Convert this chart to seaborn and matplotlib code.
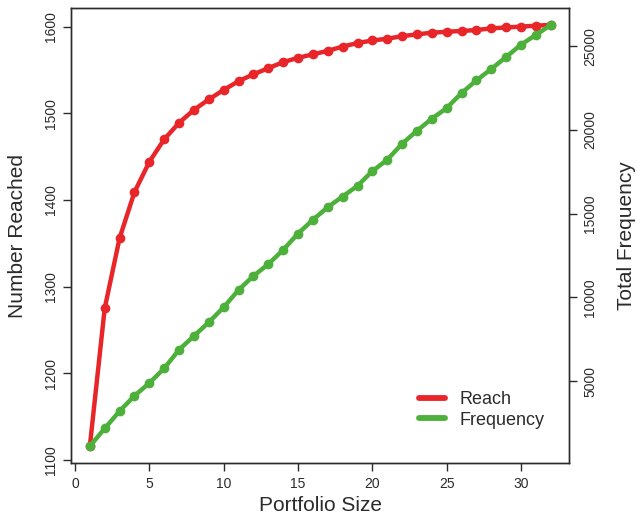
import matplotlib
matplotlib.use("Agg")
import matplotlib.pyplot as plt
from matplotlib.lines import Line2D
import seaborn as sns

# ── Data ─────────────────────────────────────────────────────
portfolio_size = list(range(1, 33))
reach = [1116, 1275, 1356, 1409, 1444, 1470, 1489, 1504, 1516, 1527,
         1537, 1545, 1552, 1559, 1564, 1568, 1572, 1577, 1581, 1584,
         1586, 1589, 1591, 1593, 1594, 1595, 1596, 1598, 1599, 1600,
         1601, 1602]
frequency = [1110, 2169, 3204, 4119, 4879, 5759, 6872, 7691, 8511, 9408,
             10443, 11281, 11981, 12837, 13812, 14631, 15391, 16025, 16666, 17545,
             18221, 19179, 19956, 20674, 21314, 22212, 22966, 23648, 24366, 25102,
             25682, 26280]
left_ticks = [1100, 1200, 1300, 1400, 1500, 1600]
right_ticks = [5000, 10000, 15000, 20000, 25000]
x_ticks = [0, 5, 10, 15, 20, 25, 30]

RED = "#E8262A"
GREEN = "#4DB03A"
INK = "#2b2b2b"

sns.set_style("ticks")
plt.rcParams["font.family"] = ["Liberation Sans", "DejaVu Sans"]

fig = plt.figure(figsize=(6.37, 5.2), dpi=100)
ax = fig.add_axes([0.1121, 0.1096, 0.7816, 0.875])
ax2 = ax.twinx()

# ── Lines ────────────────────────────────────────────────────
sns.lineplot(x=portfolio_size, y=reach, ax=ax, color=RED, lw=3.2,
             marker="o", markersize=7, markeredgewidth=0)
sns.lineplot(x=portfolio_size, y=frequency, ax=ax2, color=GREEN, lw=3.2,
             marker="o", markersize=7, markeredgewidth=0)

# R-style 4% padding on each side
for a in (ax, ax2):
    a.margins(x=0.04, y=0.04)

ax.set_xticks(x_ticks)
ax.set_yticks(left_ticks)
ax2.set_yticks(right_ticks)
ax.set_yticklabels([str(t) for t in left_ticks], rotation=90, va="center")
ax2.set_yticklabels([str(t) for t in right_ticks], rotation=90, va="center")

for a in (ax, ax2):
    a.tick_params(direction="out", length=6, width=1, color=INK,
                  labelcolor=INK, labelsize=10, pad=4)
    for s in a.spines.values():
        s.set_visible(True)
        s.set_color(INK)
        s.set_linewidth(1)

ax.set_xlabel("Portfolio Size", fontsize=15, color=INK, labelpad=4)
ax.set_ylabel("Number Reached", fontsize=15, color=INK, labelpad=12)
ax2.set_ylabel("Total Frequency", fontsize=15, color=INK, labelpad=14)

# ── Legend ───────────────────────────────────────────────────
handles = [Line2D([], [], color=RED, lw=4.2, solid_capstyle="round"),
           Line2D([], [], color=GREEN, lw=4.2, solid_capstyle="round")]
ax2.legend(handles, ["Reach", "Frequency"], loc="lower right",
           bbox_to_anchor=(0.982, 0.04), frameon=False, fontsize=13,
           handlelength=1.4, handletextpad=0.8, labelspacing=0.2,
           labelcolor=INK)

plt.savefig("out.png", dpi=100)
